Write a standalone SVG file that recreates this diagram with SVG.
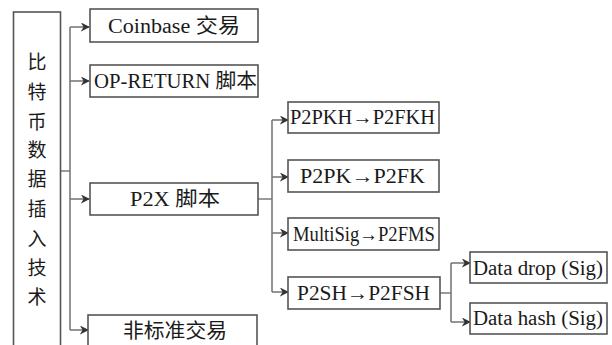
<svg xmlns="http://www.w3.org/2000/svg" width="612" height="345" viewBox="0 0 612 345">
<defs>
<style>
.box{fill:#fff;stroke:#555;stroke-width:1.6}
.ln{fill:none;stroke:#7a7a7a;stroke-width:1.6}
.ar{fill:none;stroke:#7a7a7a;stroke-width:1.6;marker-end:url(#ah)}
.t{font-size:20px;fill:#1a1a1a}
.v{font-size:19px;fill:#1a1a1a;text-anchor:middle}
</style>
<marker id="ah" viewBox="0 0 10 10" refX="9" refY="5" markerWidth="9" markerHeight="9" markerUnits="userSpaceOnUse" orient="auto">
<path d="M0,0 L10,5 L0,10 L3,5 Z" fill="#333"/>
</marker>
</defs>
<rect width="612" height="345" fill="#fff"/>
<g id="connectors">
<path class="ln" d="M61,171 H70 M70,27 V330"/>
<path class="ar" d="M70,27 H89"/>
<path class="ar" d="M70,81 H89"/>
<path class="ar" d="M70,199 H89"/>
<path class="ar" d="M70,330 H88"/>
<path class="ln" d="M258,199 H272 M272,120 V292"/>
<path class="ar" d="M272,120 H288"/>
<path class="ar" d="M272,177 H288"/>
<path class="ar" d="M272,233 H288"/>
<path class="ar" d="M272,292 H288"/>
<path class="ln" d="M440,293 H451 M451,263 V322"/>
<path class="ar" d="M451,263 H470"/>
<path class="ar" d="M451,322 H470"/>
</g>
<g font-family="'Liberation Serif', 'DejaVu Serif', 'Noto Sans CJK SC', serif">
<g id="root">
<rect class="box" x="13.5" y="12" width="47" height="345"/>
<text class="v" x="37" y="69">比</text>
<text class="v" x="37" y="99">特</text>
<text class="v" x="37" y="129">币</text>
<text class="v" x="37" y="157">数</text>
<text class="v" x="37" y="186">据</text>
<text class="v" x="37" y="216">插</text>
<text class="v" x="37" y="246">入</text>
<text class="v" x="37" y="275">技</text>
<text class="v" x="37" y="304">术</text>
</g>
<g id="coinbase">
<rect class="box" x="90" y="9" width="168" height="33"/>
<text class="t" x="108" y="33" textLength="132" lengthAdjust="spacingAndGlyphs">Coinbase 交易</text>
</g>
<g id="opreturn">
<rect class="box" x="90" y="65" width="168" height="32"/>
<text class="t" x="94" y="88" textLength="163" lengthAdjust="spacingAndGlyphs">OP-RETURN 脚本</text>
</g>
<g id="p2x">
<rect class="box" x="90" y="183" width="168" height="32"/>
<text class="t" x="130" y="206" textLength="90" lengthAdjust="spacingAndGlyphs">P2X 脚本</text>
</g>
<g id="nonstd">
<rect class="box" x="88" y="315" width="169" height="40"/>
<text class="t" x="123" y="338" textLength="104" lengthAdjust="spacingAndGlyphs">非标准交易</text>
</g>
<g id="p2pkh">
<rect class="box" x="288" y="102" width="151" height="31"/>
<text class="t" x="290" y="124" textLength="145" lengthAdjust="spacingAndGlyphs">P2PKH→P2FKH</text>
</g>
<g id="p2pk">
<rect class="box" x="288" y="160" width="151" height="32"/>
<text class="t" x="300" y="183" textLength="125" lengthAdjust="spacingAndGlyphs">P2PK→P2FK</text>
</g>
<g id="multisig">
<rect class="box" x="288" y="218" width="151" height="32"/>
<text class="t" x="293" y="241" textLength="142" lengthAdjust="spacingAndGlyphs">MultiSig→P2FMS</text>
</g>
<g id="p2sh">
<rect class="box" x="288" y="277" width="152" height="32"/>
<text class="t" x="297" y="300" textLength="133" lengthAdjust="spacingAndGlyphs">P2SH→P2FSH</text>
</g>
<g id="datadrop">
<rect class="box" x="470" y="252" width="137" height="31"/>
<text class="t" x="473" y="275" textLength="130" lengthAdjust="spacingAndGlyphs">Data drop (Sig)</text>
</g>
<g id="datahash">
<rect class="box" x="470" y="303" width="137" height="31"/>
<text class="t" x="473" y="325" textLength="130" lengthAdjust="spacingAndGlyphs">Data hash (Sig)</text>
</g>
</g>
</svg>
